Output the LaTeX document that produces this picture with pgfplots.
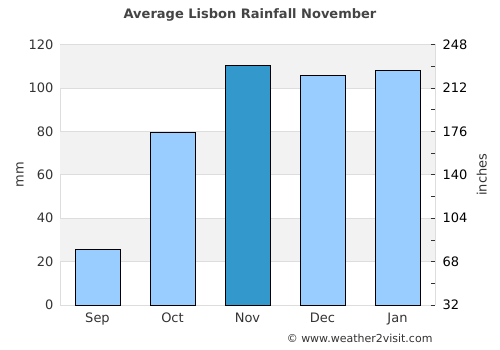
\documentclass[border=0pt]{standalone}
\usepackage{fontspec}
\setmainfont{DejaVu Sans}
\usepackage{pgfplots}
\pgfplotsset{compat=1.18}
\definecolor{barc}{HTML}{99CCFF}
\definecolor{hic}{HTML}{3399CC}
\definecolor{band}{HTML}{F2F2F2}
\definecolor{gridc}{HTML}{DDDDDD}
\definecolor{txt}{HTML}{333333}
\definecolor{ttl}{HTML}{444444}
\begin{document}
\begin{tikzpicture}
\useasboundingbox (0,0) rectangle (500pt,350pt);
\begin{axis}[
  at={(60pt,45pt)}, anchor=south west,
  scale only axis, width=375pt, height=260.5pt,
  xmin=-0.5, xmax=4.5, ymin=0, ymax=120,
  ytick={0,20,...,120},
  xtick={0,1,2,3,4}, xticklabels={Sep,Oct,Nov,Dec,Jan},
  axis line style={draw=gridc},
  major tick length=0pt,
  tick label style={font=\fontsize{13}{15}\selectfont, text=txt},
  /pgf/number format/assume math mode=true,
  yticklabel style={xshift=-3pt},
  xticklabel style={yshift=-4pt},
  ylabel={mm},
  ylabel style={at={(axis description cs:-0.107,0.5)}, anchor=center, font=\fontsize{13}{15}\selectfont, text=txt},
  axis y line*=left, axis x line*=bottom,
  ybar, bar width=0.6, bar shift=0pt,
  clip=false,
]
\fill[band] (axis cs:-0.5,100) rectangle (axis cs:4.5,120);
\fill[band] (axis cs:-0.5,60) rectangle (axis cs:4.5,80);
\fill[band] (axis cs:-0.5,20) rectangle (axis cs:4.5,40);
\foreach \yy in {20,40,60,80,100,120} {
  \edef\tmp{\noexpand\draw[gridc, line width=0.8pt] (axis cs:-0.5,\yy) -- (axis cs:4.5,\yy);}
  \tmp
}
\draw[gridc, line width=0.8pt] (axis cs:4.5,0) -- (axis cs:4.5,120);
\addplot[fill=barc, draw=black, line width=0.8pt] coordinates {(0,25.7) (1,79.3) (3,105.9) (4,108.1)};
\addplot[fill=hic, draw=black, line width=0.8pt] coordinates {(2,110.5)};
\end{axis}
\begin{axis}[
  at={(60pt,45pt)}, anchor=south west,
  scale only axis, width=375pt, height=260.5pt,
  xmin=-0.5, xmax=4.5, ymin=32, ymax=248,
  axis y line*=right, axis x line=none,
  axis line style={draw=gridc},
  ytick={32,68,...,248},
  minor ytick={50,86,...,230},
  major tick length=4pt, minor tick length=4pt,
  tick align=inside,
  every tick/.style={draw=txt, line width=0.6pt},
  tick label style={font=\fontsize{13}{15}\selectfont, text=black},
  /pgf/number format/assume math mode=true,
  yticklabel style={xshift=4pt},
  ylabel={inches},
  ylabel style={at={(axis description cs:1.125,0.5)}, anchor=center, rotate=0, font=\fontsize{13}{15}\selectfont, text=txt},
]
\end{axis}
\node[font=\bfseries\fontsize{13}{15}\selectfont, text=ttl] at (250pt,335pt) {Average Lisbon Rainfall November};
\node[font=\fontsize{11}{13}\selectfont, text=txt, anchor=east] at (436pt,12pt) {© www.weather2visit.com};
\end{tikzpicture}
\end{document}
